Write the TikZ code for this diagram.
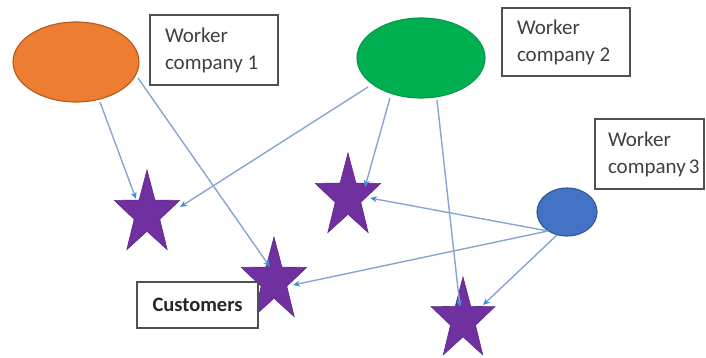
\documentclass[tikz,border=0pt]{standalone}
\usepackage{fontspec}
\setmainfont{Carlito}
\usetikzlibrary{shapes.geometric,arrows.meta,calc}
\definecolor{orangefill}{HTML}{ED7D31}
\definecolor{orangeline}{HTML}{B55A1E}
\definecolor{greenfill}{HTML}{00B050}
\definecolor{greenline}{HTML}{00994A}
\definecolor{bluefill}{HTML}{4472C4}
\definecolor{blueline}{HTML}{2F5597}
\definecolor{starfill}{HTML}{7030A0}
\definecolor{starline}{HTML}{5A2A90}
\definecolor{linkcol}{HTML}{8AA4D2}
\definecolor{tipcol}{HTML}{3E8EDB}
\definecolor{boxline}{HTML}{505050}
\definecolor{textcol}{HTML}{404040}
\begin{document}
\begin{tikzpicture}[x=1pt,y=-1pt,
  company/.style={ellipse,inner sep=0pt,line width=1.1pt},
  custstar/.style={star,star points=5,star point ratio=2.55,minimum size=88pt,inner sep=0pt,
    fill=starfill,draw=starline,line width=0.6pt,xscale=0.78,transform shape},
  labelbox/.style={rectangle,draw=boxline,fill=white,line width=1.1pt,inner sep=0pt,
    text=textcol,font=\fontsize{21}{27}\selectfont,align=flush left},
  link/.style={draw=linkcol,line width=1.4pt,-{Stealth[length=7pt,width=6pt,fill=tipcol,color=tipcol]}}]
\useasboundingbox (0,0) rectangle (706,358);

% companies
\node[company,fill=orangefill,draw=orangeline,minimum width=126pt,minimum height=80pt] (oE) at (76,62) {};
\node[company,fill=greenfill,draw=greenline,minimum width=128pt,minimum height=80pt] (gE) at (421,58) {};
\node[company,fill=bluefill,draw=blueline,minimum width=60pt,minimum height=48pt] (bE) at (567,212) {};

% customers (stars)
\begin{scope}[shift={(147,214)}]\node[custstar] (sA) at (0,0) {};\end{scope}
\begin{scope}[shift={(274,281)}]\node[custstar] (sB) at (0,0) {};\end{scope}
\begin{scope}[shift={(348,197)}]\node[custstar] (sC) at (0,0) {};\end{scope}
\begin{scope}[shift={(463,320)}]\node[custstar,minimum size=86pt] (sD) at (0,0) {};\end{scope}

% label boxes
\node[labelbox,minimum width=128pt,minimum height=70pt,text width=98pt] (l1) at (214,50) {Worker\\company~1};
\node[labelbox,minimum width=128pt,minimum height=68pt,text width=98pt] (l2) at (566,42) {Worker\\company~2};
\node[labelbox,minimum width=109pt,minimum height=70pt,text width=83pt] (l3) at (649.5,154) {Worker\\company~3};
\node[rectangle,draw=boxline,fill=white,line width=1.1pt,inner sep=0pt,align=center,
  minimum width=121pt,minimum height=46pt,font=\fontsize{20.5}{26}\selectfont\bfseries,text=black!85] (cu) at (197.5,305) {Customers};

% connectors
\draw[link] ($(oE.center)+(24,40)$) -- ($(sA.center)+(-11,-15)$);
\draw[link] ($(oE.center)+(62,16)$) -- ($(sB.center)+(-4,-14)$);
\draw[link] ($(gE.center)+(-53,29)$) -- ($(sA.center)+(33,-7)$);
\draw[link] ($(gE.center)+(-31,40)$) -- ($(sC.center)+(17,-10)$);
\draw[link] ($(gE.center)+(16,42)$) -- ($(sD.center)+(-3,-13)$);
\draw[link] ($(bE.center)+(-19,19)$) -- ($(sC.center)+(22,1)$);
\draw[link] ($(bE.center)+(-19,19)$) -- ($(sB.center)+(19,4)$);
\draw[link] ($(bE.center)+(-10,23)$) -- ($(sD.center)+(20,-15)$);
\end{tikzpicture}
\end{document}
